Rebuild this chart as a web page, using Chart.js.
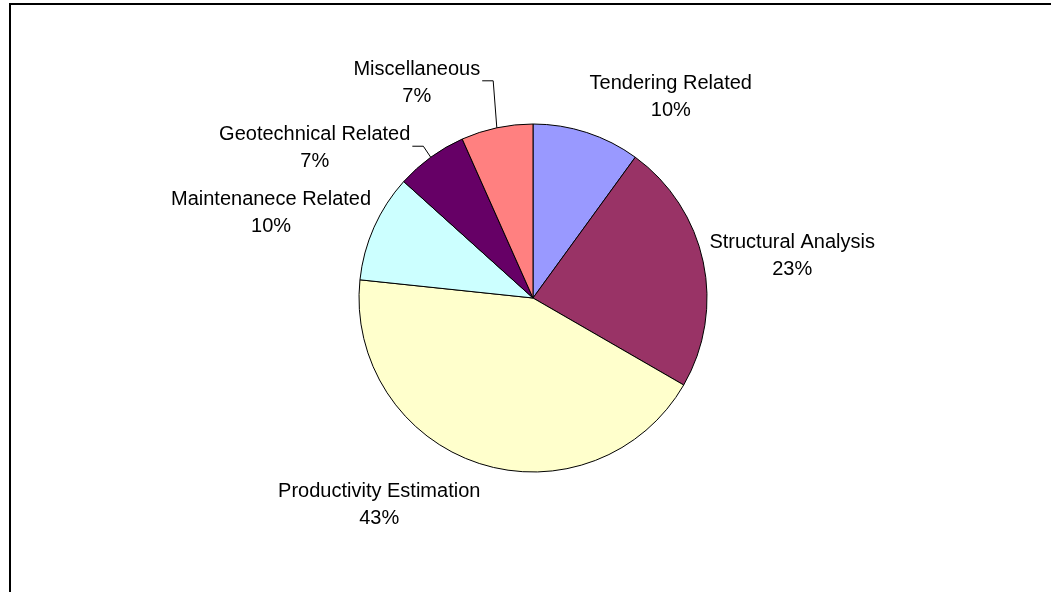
<!DOCTYPE html>
<html>
<head>
<meta charset="utf-8">
<script src="https://cdn.jsdelivr.net/npm/chart.js@4.4.1/dist/chart.umd.min.js"></script>
<style>
  html, body { margin: 0; padding: 0; background: #fff; }
  #wrap { width: 1051px; height: 592px; }
</style>
</head>
<body>
<div id="wrap"><canvas id="pie" width="1051" height="592"></canvas></div>
<script>
// categories and number of items in each
var categories = ["Tendering Related", "Structural Analysis", "Productivity Estimation",
                  "Maintenanece Related", "Geotechnical Related", "Miscellaneous"];
var counts = [3, 7, 13, 3, 2, 2];
var colors = ['#9999FF', '#993366', '#FFFFCC', '#CCFFFF', '#660066', '#FF8080'];

// label placement relative to the slice's outer mid point, and which ones get a leader line
var labelOffsets = [[84, -44], [89, -14], [-100, 34], [-103, -22], [-116, -17], [-80, -53]];
var leaders = [false, false, false, false, true, true];

var FONT = '20px "Liberation Sans", Arial, sans-serif';

var outsideLabels = {
  id: 'outsideLabels',
  beforeDraw: function (chart) {
    var c = chart.ctx;
    c.save();
    // chart frame
    c.strokeStyle = '#000';
    c.lineWidth = 2;
    c.beginPath();
    c.moveTo(10, 700);
    c.lineTo(10, 4);
    c.lineTo(1100, 4);
    c.stroke();
    c.restore();
  },
  afterDraw: function (chart) {
    var c = chart.ctx;
    var meta = chart.getDatasetMeta(0);
    var total = counts.reduce(function (a, b) { return a + b; }, 0);
    c.save();
    c.font = FONT;
    c.fillStyle = '#000';
    c.textAlign = 'center';
    c.textBaseline = 'alphabetic';
    meta.data.forEach(function (arc, i) {
      var mid = (arc.startAngle + arc.endAngle) / 2;
      var px = arc.x + Math.cos(mid) * arc.outerRadius;
      var py = arc.y + Math.sin(mid) * arc.outerRadius;
      var lx = px + labelOffsets[i][0];
      var ly = py + labelOffsets[i][1];
      var pct = Math.round(counts[i] / total * 100) + '%';
      c.fillText(categories[i], lx, ly);
      c.fillText(pct, lx, ly + 27);
      if (leaders[i]) {
        var right = lx + c.measureText(categories[i]).width / 2;
        c.strokeStyle = '#000';
        c.lineWidth = 1;
        c.beginPath();
        c.moveTo(right + 2, ly + 6);
        c.lineTo(right + 13, ly + 6);
        c.lineTo(px, py);
        c.stroke();
      }
    });
    c.restore();
  }
};

new Chart(document.getElementById('pie').getContext('2d'), {
  type: 'pie',
  data: {
    labels: categories,
    datasets: [{
      data: counts,
      backgroundColor: colors,
      borderColor: '#000',
      borderWidth: 1,
      radius: 174
    }]
  },
  options: {
    responsive: false,
    animation: false,
    layout: { padding: { left: 100, right: 85, top: 124, bottom: 120 } },
    plugins: {
      legend: { display: false },
      tooltip: { enabled: false }
    }
  },
  plugins: [outsideLabels]
});
</script>
</body>
</html>
